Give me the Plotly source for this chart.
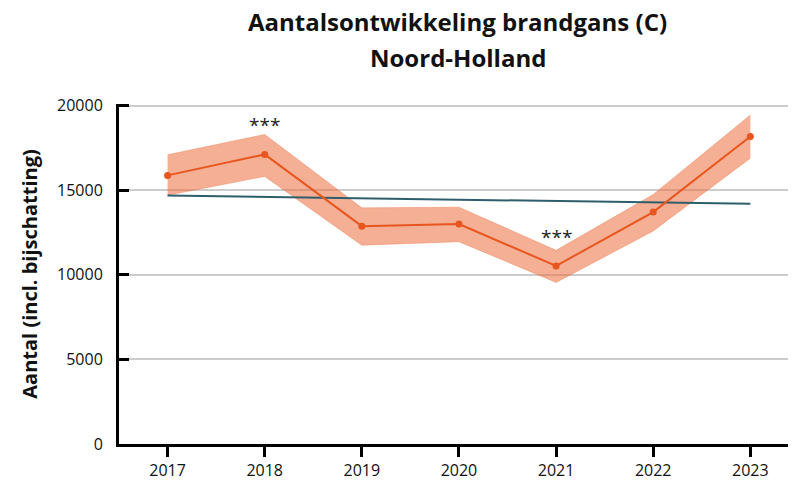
import plotly.graph_objects as go

years = [2017, 2018, 2019, 2020, 2021, 2022, 2023]
aantal = [15880, 17120, 12880, 13000, 10530, 13710, 18180]
upper = [17100, 18300, 13960, 14000, 11450, 14750, 19450]
lower = [14700, 15820, 11750, 11960, 9550, 12590, 16900]
trend = [14690, 14610, 14530, 14450, 14360, 14280, 14200]
sig_years = [2018, 2021]
sig_labels = ["***", "***"]
y_ticks = [0, 5000, 10000, 15000, 20000]

orange = "#E8561F"
band = "rgba(236,110,60,0.55)"
teal = "#2E5E6C"

fig = go.Figure()
fig.add_trace(go.Scatter(x=years, y=upper, mode="lines", line=dict(width=0.6, color="rgba(236,110,60,0.6)"),
                         showlegend=False, hoverinfo="skip"))
fig.add_trace(go.Scatter(x=years, y=lower, mode="lines", line=dict(width=0.6, color="rgba(236,110,60,0.6)"),
                         fill="tonexty", fillcolor=band, showlegend=False, hoverinfo="skip"))
fig.add_trace(go.Scatter(x=years, y=trend, mode="lines", line=dict(color=teal, width=2), showlegend=False))
fig.add_trace(go.Scatter(x=years, y=aantal, mode="lines+markers", line=dict(color=orange, width=2),
                         marker=dict(color=orange, size=7), showlegend=False))

for yr, lab in zip(sig_years, sig_labels):
    i = years.index(yr)
    fig.add_annotation(x=yr, y=aantal[i], text=lab, showarrow=False, yshift=29,
                       font=dict(size=19, color="#222"))

fig.add_annotation(xref="paper", yref="paper", x=0.5, y=1 + 47 / 340, yanchor="middle",
                   text="<b>Noord-Holland</b>", showarrow=False,
                   font=dict(size=24, color="#111"))

fig.update_layout(
    width=796, height=482,
    margin=dict(l=111, r=8, t=96, b=46),
    paper_bgcolor="white", plot_bgcolor="white",
    font=dict(family="Open Sans, Noto Sans, sans-serif", size=16, color="#111"),
    title=dict(text="<b>Aantalsontwikkeling brandgans (C)</b>",
               xref="paper", x=0.5, xanchor="center", y=1 - 15 / 482, yanchor="middle",
               font=dict(size=24, color="#111")),
    xaxis=dict(range=[2016.5, 2023.47], tickvals=years, ticktext=[str(y) for y in years],
               showgrid=False, showline=True, linecolor="black", linewidth=3,
               ticks="outside", ticklen=10, tickwidth=3, tickcolor="black", zeroline=False,
               tickfont=dict(size=16)),
    yaxis=dict(range=[0, 20100], tickvals=y_ticks, ticktext=[str(v) for v in y_ticks],
               showgrid=True, gridcolor="#cccccc", gridwidth=2,
               showline=True, linecolor="black", linewidth=3,
               ticks="inside", ticklen=10, tickwidth=3, tickcolor="black", zeroline=False,
               ticklabelstandoff=10,
               title=dict(text="<b>Aantal (incl. bijschatting)</b>", font=dict(size=20), standoff=15),
               tickfont=dict(size=16)),
)

fig.write_html("out.html")
